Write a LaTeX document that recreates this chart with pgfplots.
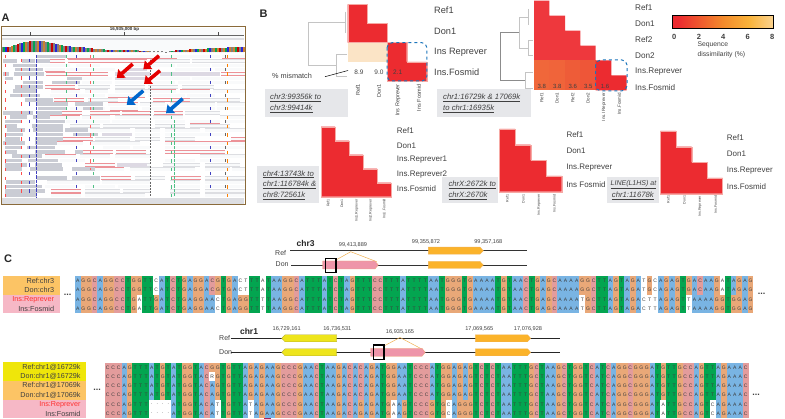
\documentclass[border=0pt]{standalone}
\usepackage{fontspec}
\setmainfont{Liberation Sans}
\usepackage{pgfplots}
\pgfplotsset{compat=1.18}
\usetikzlibrary{arrows.meta}

\definecolor{hred}{HTML}{EC2B30}
\definecolor{hredb}{HTML}{EE383D}
\definecolor{hedge}{HTML}{F6A9A4}
\definecolor{cream}{HTML}{FBE4C6}
\definecolor{boxgray}{HTML}{E6E7EA}
\definecolor{dashc}{HTML}{1B75BB}
\definecolor{txt}{HTML}{404040}
\definecolor{baseA}{HTML}{79B4E3}
\definecolor{baseC}{HTML}{E39C9C}
\definecolor{baseG}{HTML}{E9A878}
\definecolor{baseT}{HTML}{03A550}
\definecolor{basetxt}{HTML}{3C3C3C}
\definecolor{lorange}{HTML}{FCC465}
\definecolor{lpink}{HTML}{F6B8C6}
\definecolor{lyellow}{HTML}{EFE60A}
\definecolor{gorange}{HTML}{FBB32A}
\definecolor{gpink}{HTML}{EE95A9}
\definecolor{gyellow}{HTML}{EEE51C}
\definecolor{thinc}{HTML}{F0B050}
\definecolor{framec}{HTML}{8A6A3A}
\definecolor{readg}{HTML}{CACCD4}
\definecolor{readl}{HTML}{DDDEE2}
\definecolor{readv}{HTML}{DDD9E3}
\definecolor{readr}{HTML}{EC9298}
\definecolor{readw}{HTML}{F9FAFB}
\definecolor{dendro}{HTML}{C4C4C4}
\definecolor{cbA}{HTML}{F38A2C}
\definecolor{cbB}{HTML}{F9B33A}
\definecolor{cbC}{HTML}{FCE8C8}

\def\fs#1{\fontsize{#1}{#1}\selectfont}

% alignment parser: upper case = coloured cell, lower case = white cell
\newcount\cellno
\def\listA{}\def\listC{}\def\listG{}\def\listT{}\def\listW{}
\def\dorow#1#2#3#4{\cellno=0\relax\def\rowx{#1}\def\rowy{#2}\def\rowdx{#3}\scanrow#4\relax}
\def\scanrow#1{\ifx#1\relax\else\docell{#1}\expandafter\scanrow\fi}
\def\docell#1{\pgfmathsetmacro\cx{\rowx+\rowdx*\cellno}\advance\cellno by 1\relax
  \if#1A\xdef\listA{\listA(\cx,\rowy)[A]}\fi
  \if#1C\xdef\listC{\listC(\cx,\rowy)[C]}\fi
  \if#1G\xdef\listG{\listG(\cx,\rowy)[G]}\fi
  \if#1T\xdef\listT{\listT(\cx,\rowy)[T]}\fi
  \if#1a\xdef\listW{\listW(\cx,\rowy)[A]}\fi
  \if#1c\xdef\listW{\listW(\cx,\rowy)[C]}\fi
  \if#1t\xdef\listW{\listW(\cx,\rowy)[T]}\fi
  \if#1r\xdef\listW{\listW(\cx,\rowy)[R]}\fi
  \if#1.\xdef\listW{\listW(\cx,\rowy)[.]}\fi}

\dorow{77.8}{280.7}{5.606}{AGGCAGGCCTGGTTcATCTGAGGACGTGActTTaTAAGGCATTTATCTAGTTTCCTTTATTTTAATGGGTGAAAATGTAACTGAGCAAAAGGCTTAGTAGAtGcAGAGTGACAAGaTAGAG}
\dorow{77.8}{290}{5.606}{AGGCAGGCCTGGTTcATCTGAGGACGTGActTTaTAAGGCATTTATCTAGTTTCCTTTATTTTAATGGGTGAAAATGTAACTGAGCAAAAGGCTTAGTAGAtGcAGAGTGACAAGaTAGAG}
\dorow{77.8}{299.3}{5.606}{AGGCAGGCCTGaTTGATCTGAGGAAcTGAGGTTtTAAGGCATTTATCTAGTTTCCTTTATTTTAATGGGTGAAAATGTAACTGAGCAAAAtGCTTAGTAGActtAGAGTtAAAAGGTGGAG}
\dorow{77.8}{308.7}{5.606}{AGGCAGGCCTGaTTGATCTGAGGAAcTGAGGTTtTAAGGCATTTATCTAGTTTCCTTTATTTTAATGGGTGAAAATGTAACTGAGCAAAAtGCTTAGTAGActtAGAGTtAAAAGGTGGAG}
\dorow{107.75}{367.3}{5.5}{CCCAGTTTATGTATGGTACGGTGTTAGAGAAGCCCGAACTAAGACACAGATGGAATCCCATGGAGAGTCTCTAATTTGCTAAGCTGGTCATCAGGCGGGATGTTGCCAGTTAGAAAC}
\dorow{107.75}{376.7}{5.5}{CCCAGTTTATGTATGGTACrGTGTTAGAGAAGCCCGAACTAAGACACAGATGGAATCCCATGGAGAGTCTCTAATTTGCTAAGCTGGTCATCAGGCGGGATGTTGCCAGTTAGAAAC}
\dorow{107.75}{385.7}{5.5}{CCCAGTTTATGTATGGTACAGTGTTAGAGAAGCCCGAACTAAGACACAGATGGAATCCCATGGAGAGTCTCTAATTTGCTAAGCTGGTCATCAGGCGGGATGTTGCCAGTTAGAAAC}
\dorow{107.75}{395}{5.5}{CCCAGTTTATGTATGGTACAGTGTTAGAGAAGCCCGAACTAAGACACAGATGGAATCCCATGGAGAGTCTCTAATTTGCTAAGCTGGTCATCAGGCGGGATGTTGCCAGTTAGAAAC}
\dorow{107.75}{404.3}{5.5}{CCCAGTTT....ATGGTACAtTGTTAtAGAAGCCCGAACTAAGACAGAGATGaAGTCCCGTGcAGGGTCTCTAATTTGCTAAGCTGGTCATCAGGCGGGATaTTGCCAGTcAGAAAC}
\dorow{107.75}{413.7}{5.5}{CCCAGTTT....ATGGTACAtTGTTAtAGAAGCCCGAACTAAGACAGAGATGaAGTCCCGTGcAGGGTCTCTAATTTGCTAAGCTGGTCATCAGGCGGGATaTTGCCAGTcAGAAAC}

% read segments of panel A: \rs\list{y}{x1/x2,...}
\def\rs#1#2#3{\foreach \a/\b in {#3}{\xdef#1{#1(\a,#2)(\b,#2)(nan,nan)}}}
\def\bars#1#2{\gdef#1{}\foreach \a/\b in {#2}{\xdef#1{#1(\a,52.5)(\a,\b)(nan,nan)}}}
\def\rG{}\def\rL{}\def\rV{}\def\rR{}

\rs\rL{56.7}{177/220}
\rs\rL{61}{150/190,192/245}
\rs\rL{65.4}{76/100,128/175,177/210,212/245}
\rs\rL{69.7}{66/115,175/212,215/245}
\rs\rL{78.4}{155/190,192/245}
\rs\rL{82.7}{82/112,115/148,150/175,178/210,212/245}
\rs\rL{87}{78/110,115/145,148/178,182/214}
\rs\rL{91.3}{85/108,115/150,213/245}
\rs\rL{95.7}{50/105,148/185,187/215}
\rs\rL{100}{88/118,190/240}
\rs\rL{104.3}{140/165,170/215,217/245}
\rs\rL{108.7}{70/105,142/170,172/215,217/245}
\rs\rL{113}{185/220}
\rs\rL{117.3}{82/110,115/150,153/183,220/245}
\rs\rL{121.7}{66/110,112/150,155/185,225/245}
\rs\rL{126}{70/100,103/150,155/185,190/230}
\rs\rL{130.3}{90/130,135/160,165/200,205/245}
\rs\rL{134.7}{135/160,165/225}
\rs\rL{139}{95/130,135/160,165/195}
\rs\rL{143.3}{90/140}
\rs\rL{147.6}{133/150,165/245}
\rs\rL{156.3}{80/110,115/150,200/245}
\rs\rL{160.6}{60/85,200/230}
\rs\rL{165}{130/150,163/200,205/240}
\rs\rL{169.3}{130/160,160/195,205/230,232/245}
\rs\rL{178}{135/165,205/245}
\rs\rL{182.3}{47/100,102/150,170/200,205/245}
\rs\rL{186.6}{85/115,118/150,170/200,205/245}
\rs\rL{191}{85/120,123/150,170/200,205/245}
\rs\rL{195.3}{85/145,170/200,205/245}

\rs\rG{56.7}{36/66}
\rs\rG{61}{3/17,22/35,37/50}
\rs\rG{65.4}{13/36}
\rs\rG{69.7}{15/43}
\rs\rG{74}{3/9,14/44}
\rs\rG{78.4}{5/13,67/97}
\rs\rG{82.7}{23/43,52/80}
\rs\rG{87}{15/43}
\rs\rG{91.3}{13/37}
\rs\rG{95.7}{10/40}
\rs\rG{100}{25/53}
\rs\rG{104.3}{37/68,75/103}
\rs\rG{108.7}{38/67,83/103}
\rs\rG{113}{3/33,37/63}
\rs\rG{117.3}{10/27,33/50}
\rs\rG{121.7}{5/22,37/65}
\rs\rG{126}{5/17,32/63}
\rs\rG{130.3}{7/25,33/63,65/88}
\rs\rG{134.7}{5/23,37/63,73/98}
\rs\rG{139}{5/20,35/63}
\rs\rG{143.3}{3/25,35/63}
\rs\rG{147.6}{5/22,27/55}
\rs\rG{152}{5/17,35/65,75/93}
\rs\rG{156.3}{12/42}
\rs\rG{160.6}{5/22,28/58}
\rs\rG{165}{5/27,35/62}
\rs\rG{169.3}{5/22,30/63,72/95}
\rs\rG{178}{37/67,72/100}
\rs\rG{182.3}{6/35}
\rs\rG{186.6}{5/42}
\rs\rG{191}{5/45}
\rs\rG{195.3}{5/37}

\rs\rV{69.7}{127/147}
\rs\rV{74}{115/150,160/220}
\rs\rV{78.4}{98/112,115/150}
\rs\rV{134.7}{102/132}
\rs\rV{165}{117/147}

\rs\rR{56.7}{67/127,127/177,222/245}
\rs\rR{61}{50/65,68/100,100/147}
\rs\rR{65.4}{40/70}
\rs\rR{69.7}{45/65}
\rs\rR{74}{46/108,221/245}
\rs\rR{78.4}{82/112}
\rs\rR{87}{45/75}
\rs\rR{91.3}{51/80,151/176,180/210}
\rs\rR{95.7}{108/145}
\rs\rR{100}{54/84,153/190}
\rs\rR{104.3}{108/138}
\rs\rR{108.7}{110/138}
\rs\rR{113}{62/82,90/120,122/151,154/183}
\rs\rR{117.3}{50/80}
\rs\rR{121.7}{190/220}
\rs\rR{139}{63/93,231/245}
\rs\rR{143.3}{57/83,165/195,195/225,225/245}
\rs\rR{147.6}{103/130}
\rs\rR{152}{83/113,116/146,165/195,195/225}
\rs\rR{156.3}{45/76}
\rs\rR{160.6}{165/195}
\rs\rR{165}{85/115}
\rs\rR{169.3}{95/124}
\rs\rR{178}{101/131,171/201}
\rs\rR{186.6}{45/75}
\rs\rR{191}{51/81}
\rs\rR{195.3}{51/81}

% coverage track: x/top
\bars\covGray{2/47,10/46.7,16/45,20/43.5,28/41.7,32/41,36/41,42/41,46/42,50/42.7,54/43.5,58/44.5,64/46,68/46.5,72/47,78/47.3,82/47.3,86/48,90/48.5,94/49,98/49.3,102/49.5,106/50,110/50,114/50,118/50,122/50,126/50,130/50,134/50,138/50.5,142/51,146/51,150/51,154/51.5,158/51.5,162/51.5,166/51.7,170/51.5,174/51,178/50.5,186/50,194/49.3,202/49,212/48.5,222/48,232/47.3,240/47}
\bars\covGreen{4/47,14/45.5,24/42.5,34/41,48/42.5,62/45.5,74/47,88/48,104/49.5,120/50,136/50.5,172/51,182/50,198/49,208/48.5,216/48,226/47.7,236/47.3}
\bars\covRed{8/46.8,18/44,30/41.3,52/43,66/46,80/47.3,92/48.5,108/50,124/50,140/51,176/50.5,190/49.5,204/49,220/48,238/47.2}
\bars\covBlue{6/47,22/43,40/41,56/44,70/46.5,84/47.5,112/50,128/50,144/51,180/50,196/49,210/48.5,228/47.5,242/47}
\bars\covTan{12/46,26/42,38/41,44/41.5,60/45,76/47,96/49,100/49.3,116/50,132/50,148/51,184/50,188/49.7,192/49.3,200/49,206/48.7,214/48.3,218/48,224/48,230/47.5,234/47.3,244/47}

\def\plotlist#1#2{\edef\tmpcmd{\noexpand\addplot[\unexpanded{#1}] coordinates {#2};}\tmpcmd}
\def\rect#1#2#3#4#5{\addplot[fill=#1,draw=none] coordinates {(#2,#3)(#4,#3)(#4,#5)(#2,#5)} --cycle;}
\def\lab#1#2#3#4{\node[anchor=west,inner sep=0pt,text=txt,font=\fs{#3}] at (axis cs:#1,#2) {#4};}
\def\vlab#1#2#3#4{\node[anchor=east,rotate=90,inner sep=0pt,text=txt,font=\fs{#3}] at (axis cs:#1,#2) {#4};}
\def\ctr#1#2#3#4{\node[inner sep=0pt,text=txt,font=\fs{#3}] at (axis cs:#1,#2) {#4};}
\def\link#1#2#3{\node[anchor=west,inner sep=0pt,text=txt,font=\fs{7.7}\itshape] at (axis cs:#1,#2) {\underline{#3}};}

\pgfdeclareplotmark{cell}{\pgfpathrectangle{\pgfqpoint{-2.85pt}{-4.72pt}}{\pgfqpoint{5.7pt}{9.44pt}}\pgfusepathqfill}
\pgfdeclarehorizontalshading{cbar}{100bp}{
  color(0bp)=(hred); color(28bp)=(hred); color(50bp)=(cbA);
  color(63bp)=(cbB); color(83bp)=(cbC); color(95bp)=(white); color(100bp)=(white)}
\pgfplotsset{
  basecell/.style={only marks, mark=cell, color=#1, point meta=explicit symbolic,
    nodes near coords={\pgfplotspointmeta},
    every node near coord/.append style={anchor=center, inner sep=0pt, text=basetxt, font={\fs{5}}}},
  rd/.style={unbounded coords=jump, line width=#1}}

\begin{document}
\begin{tikzpicture}
\useasboundingbox (0,0) rectangle (785pt,419pt);
\begin{axis}[
  scale only axis, width=785pt, height=419pt,
  xmin=0, xmax=785, ymin=0, ymax=419, y dir=reverse,
  hide axis, clip=false]

% ---- panel A
\rect{readw}{2}{28}{244}{204}
\rect{white}{2}{53}{244}{198}
\rect{readl}{2}{37.8}{244}{40}
\rect{readl}{2}{198.5}{244}{204}
\addplot[black!60,line width=0.4] coordinates {(2,35.7)(244,35.7)};
\addplot[black!70,unbounded coords=jump,line width=0.4] coordinates {(30,32.5)(30,35.7)(nan,nan)(124,32.5)(124,35.7)(nan,nan)(218,32.5)(218,35.7)};
\node[font=\fs{4.5}\bfseries,text=black!80,inner sep=0pt] at (axis cs:124.5,29.7) {16,935,000 bp};
\plotlist{rd=1.9,color=gray}{\covGray}
\plotlist{rd=1.9,color=baseT}{\covGreen}
\plotlist{rd=1.9,color=red!80!black}{\covRed}
\plotlist{rd=1.9,color=blue!70!gray}{\covBlue}
\plotlist{rd=1.9,color=brown!80!orange}{\covTan}
\plotlist{rd=3.6,color=readl}{\rL}
\plotlist{rd=2.6,color=readw}{\rL}
\plotlist{rd=3.6,color=readg}{\rG}
\plotlist{rd=3.6,color=readv}{\rV}
\plotlist{rd=3.7,color=readr}{\rR}
\plotlist{rd=2.5,color=readw}{\rR}
% mismatch columns
\addplot[red!70,line width=0.55,dash pattern=on 3.3pt off 5.4pt] coordinates {(5,55)(5,197)};
\addplot[red!70,line width=0.55,dash pattern=on 3.3pt off 5.4pt] coordinates {(21,59)(21,197)};
\addplot[blue!50!gray,line width=0.55,dash pattern=on 3.3pt off 5.4pt] coordinates {(29,59)(29,197)};
\addplot[blue!50!gray,line width=0.5,dash pattern=on 3.3pt off 1pt] coordinates {(36,55)(36,197)};
\addplot[baseT!70,line width=0.55,dash pattern=on 3.3pt off 5.4pt] coordinates {(66,55)(66,120)};
\addplot[blue!50!gray,line width=0.55,dash pattern=on 3.3pt off 9.7pt] coordinates {(76,55)(76,197)};
\addplot[red!60,line width=0.55,dash pattern=on 3.3pt off 5.4pt] coordinates {(90,55)(90,170)};
\addplot[baseT!70,line width=0.55,dash pattern=on 3.3pt off 9.7pt] coordinates {(93.3,55)(93.3,197)};
\addplot[baseT!70,line width=0.55,dash pattern=on 3.3pt off 5.4pt] coordinates {(171,55)(171,197)};
\addplot[baseT!70,line width=0.55,dash pattern=on 3.3pt off 1pt] coordinates {(174,120)(174,197)};
\addplot[blue!50!gray,line width=0.55,dash pattern=on 3.3pt off 9.7pt] coordinates {(210.7,55)(210.7,197)};
\addplot[black!60,line width=0.55,dash pattern=on 3.3pt off 9.7pt] coordinates {(225,55)(225,197)};
\addplot[orange,line width=0.55,dash pattern=on 3.3pt off 5.4pt] coordinates {(227.7,55)(227.7,197)};
\addplot[black!60,line width=0.6,dash pattern=on 2pt off 1.2pt] coordinates {(150.5,60)(150.5,198)};
\rect{readl}{2}{198.5}{244}{204}
\addplot[framec,line width=1] coordinates {(1,26.5)(245,26.5)(245,205)(1,205)} --cycle;
% arrows
\addplot[red!90!black,line width=3.6,-{Triangle[length=7pt,width=11pt]}] coordinates {(132.7,64)(116.7,78)};
\addplot[red!90!black,line width=3.6,-{Triangle[length=7pt,width=11pt]}] coordinates {(159,55.7)(143.3,69.3)};
\addplot[red!90!black,line width=3.6,-{Triangle[length=7pt,width=11pt]}] coordinates {(160,70.7)(144,84)};
\addplot[blue!50!cyan!80!black,line width=3.6,-{Triangle[length=7pt,width=11pt]}] coordinates {(143.3,90.7)(126.7,105)};
\addplot[blue!50!cyan!80!black,line width=3.6,-{Triangle[length=7pt,width=11pt]}] coordinates {(182.7,98.7)(166,113.3)};
\node[font=\fs{11}\bfseries,text=black!85,inner sep=0pt] at (axis cs:5.5,17.5) {A};
\node[font=\fs{11}\bfseries,text=black!85,inner sep=0pt] at (axis cs:263.5,14) {B};
\node[font=\fs{11}\bfseries,text=black!85,inner sep=0pt] at (axis cs:8,259) {C};

% ---- panel B heatmap 1
\addplot[dendro,line width=0.6] coordinates {(345,11.7)(345,33.3)};
\addplot[dendro,line width=0.6] coordinates {(345,22.3)(308.3,22.3)(308.3,65.7)(336.7,65.7)};
\addplot[dendro,line width=0.6] coordinates {(347,54.3)(336.7,54.3)(336.7,76)(347,76)};
\rect{cream}{347.7}{42.7}{387}{62}
\addplot[fill=hred,draw=hedge,line width=0.4] coordinates {(347.7,4.3)(367.3,4.3)(367.3,23.7)(387,23.7)(387,42.7)(347.7,42.7)} --cycle;
\addplot[fill=hred,draw=hedge,line width=0.4] coordinates {(387,42.7)(406.7,42.7)(406.7,62)(426.7,62)(426.7,81)(387,81)} --cycle;
\draw[dashc,dashed,line width=1,rounded corners=5pt] (axis cs:387,42.7) rectangle (axis cs:426.9,81);
\ctr{359}{72.5}{6.5}{8.9}\ctr{379}{72.5}{6.5}{9.0}\ctr{397.7}{72.5}{6.5}{2.1}
\lab{434}{10.7}{9.2}{Ref1}\lab{434}{31.3}{9.2}{Don1}\lab{434}{52}{9.2}{Ins Reprever}\lab{434}{72.5}{9.2}{Ins.Fosmid}
\vlab{358}{84}{5.5}{Ref1}\vlab{379}{84}{5.5}{Don1}\vlab{398}{84}{5.5}{Ins Reprever}\vlab{419}{84}{5.5}{Ins Fosmid}
\lab{272}{76}{7.3}{\% mismatch}
\addplot[black,line width=0.5] coordinates {(325,76.7)(348,70.5)};
\rect{boxgray}{264.7}{89.3}{347.7}{116.7}
\link{270}{98}{chr3:99356k to}\link{270}{109}{chr3:99414k}

% ---- heatmap 2
\addplot[dendro,line width=0.6] coordinates {(528,9)(528,25)};
\addplot[dendro,line width=0.6] coordinates {(528,17)(519,17)(519,48)(528,48)};
\addplot[dendro,line width=0.6] coordinates {(533,40)(528,40)(528,55)(533,55)};
\addplot[black!45,line width=0.7] coordinates {(519,32.7)(500,32.7)(500,80)(525,80)};
\addplot[dendro,line width=0.6] coordinates {(533,72)(525,72)(525,88)(533,88)};
\addplot[fill=hredb,draw=none] coordinates {(534,0.7)(549.3,0.7)(549.3,15.7)(565,15.7)(565,30.7)(580.3,30.7)(580.3,45.7)(595.7,45.7)(595.7,60.3)(534,60.3)} --cycle;
\definecolor{hor1}{HTML}{F0673A}\definecolor{hor2}{HTML}{F0643A}\definecolor{hor3}{HTML}{EE5C38}\definecolor{hor4}{HTML}{EE5638}
\rect{hor1}{534}{60.3}{549.3}{90.3}
\rect{hor2}{549.3}{60.3}{565}{90.3}
\rect{hor3}{565}{60.3}{580.3}{90.3}
\rect{hor4}{580.3}{60.3}{595.7}{90.3}
\addplot[fill=hred,draw=none] coordinates {(595.7,60.3)(611.3,60.3)(611.3,75.3)(626.7,75.3)(626.7,90.3)(595.7,90.3)} --cycle;
\draw[dashc,dashed,line width=1,rounded corners=5pt] (axis cs:595.7,60) rectangle (axis cs:627,90.8);
\ctr{541.7}{86}{6}{3.8}\ctr{557.3}{86}{6}{3.8}\ctr{572.7}{86}{6}{3.6}\ctr{588.3}{86}{6}{3.5}\ctr{605}{86}{6}{1.6}
\lab{635}{8}{8.2}{Ref1}\lab{635}{24}{8.2}{Don1}\lab{635}{40}{8.2}{Ref2}\lab{635}{56}{8.2}{Don2}\lab{635}{72}{8.2}{Ins.Reprever}\lab{635}{88}{8.2}{Ins.Fosmid}
\vlab{541.7}{92.7}{4.5}{Ref1}\vlab{557}{92.7}{4.5}{Don1}\vlab{572.7}{92.7}{4.5}{Ref2}\vlab{588}{92.7}{4.5}{Don2}\vlab{604}{92.7}{4.5}{Ins.I Reprever}\vlab{619.3}{92.7}{4.5}{Ins.Fosmid}
\rect{boxgray}{437.3}{89.3}{530.7}{116.7}
\link{443}{98}{chr1:16729k \& 17069k}\link{443}{109}{to chr1:16935k}

% ---- colour bar
\shade[shading=cbar] (axis cs:672,15.7) rectangle (axis cs:773.3,28.3);
\draw[black,line width=1] (axis cs:672,15.7) rectangle (axis cs:773.3,28.3);
\ctr{674.3}{37}{7.5}{\bfseries 0}\ctr{699}{37}{7.5}{\bfseries 2}\ctr{723.3}{37}{7.5}{\bfseries 4}\ctr{747.7}{37}{7.5}{\bfseries 6}\ctr{772.3}{37}{7.5}{\bfseries 8}
\lab{697.3}{45}{6.8}{Sequence}\lab{697.3}{55}{6.8}{dissimilarity (\%)}

% ---- heatmap 3
\addplot[fill=hred,draw=hedge,line width=0.3] coordinates {(321,126.7)(335,126.7)(335,140.7)(349,140.7)(349,154.7)(363,154.7)(363,168.7)(377,168.7)(377,182.7)(391,182.7)(391,196.7)(321,196.7)} --cycle;
\lab{396.7}{131}{8}{Ref1}\lab{396.7}{145.7}{8}{Don1}\lab{396.7}{160}{8}{Ins.Reprever1}\lab{396.7}{174.3}{8}{Ins.Reprever2}\lab{396.7}{189}{8}{Ins.Fosmid}
\vlab{328}{199}{3.6}{Ref1}\vlab{342}{199}{3.6}{Don1}\vlab{356.7}{199}{3.6}{Ins1.Reprever}\vlab{370.7}{199}{3.6}{Ins2.Reprever}\vlab{384}{199}{3.6}{Ins1.Fosmid}
\rect{boxgray}{257.3}{166}{319.3}{203.3}
\link{262.7}{174.3}{chr4:13743k to}\link{262.7}{185}{chr1:116784k \&}\link{262.7}{195.7}{chr8:72561k}

% ---- heatmap 4
\addplot[fill=hred,draw=hedge,line width=0.3] coordinates {(499.3,129)(515,129)(515,144.7)(530.7,144.7)(530.7,160.3)(546.3,160.3)(546.3,176)(561.7,176)(561.7,191.7)(499.3,191.7)} --cycle;
\lab{566.3}{135}{8}{Ref1}\lab{566.3}{151}{8}{Don1}\lab{566.3}{167.7}{8}{Ins.Reprever}\lab{566.3}{184.3}{8}{Ins Fosmid}
\vlab{507.3}{194.3}{3.6}{Ref1}\vlab{523.3}{194.3}{3.6}{Don1}\vlab{539}{194.3}{3.6}{Ins.Reprever}\vlab{554.3}{194.3}{3.6}{Ins.Fosmid}
\rect{boxgray}{442.3}{176.7}{498}{203.3}
\link{448.3}{185}{chrX:2672k to}\link{448.3}{196}{chrX:2670k}

% ---- heatmap 5
\addplot[fill=hred,draw=hedge,line width=0.3] coordinates {(660.3,131)(676,131)(676,146.7)(691.7,146.7)(691.7,162.3)(707.3,162.3)(707.3,178)(722.5,178)(722.5,193.7)(660.3,193.7)} --cycle;
\lab{726.7}{137.3}{8}{Ref1}\lab{726.7}{154}{8}{Don1}\lab{726.7}{170.7}{8}{Ins.Reprever}\lab{726.7}{186.7}{8}{Ins.Fosmid}
\vlab{668.3}{195.7}{3.6}{Ref1}\vlab{684.3}{195.7}{3.6}{Don1}\vlab{700}{195.7}{3.6}{Ins.Reprever}\vlab{715.7}{195.7}{3.6}{Ins.Fosmid}
\rect{boxgray}{606.7}{176.7}{659.3}{203.3}
\node[anchor=west,inner sep=0pt,text=txt,font=\fs{7}\itshape] at (axis cs:610.5,185) {\underline{LINE(L1HS) at}};
\link{611.7}{196}{chr1:11678k}

% ---- panel C, chr3 gene track
\node[font=\fs{8.5}\bfseries,text=black!85,inner sep=0pt] at (axis cs:305.7,243.3) {chr3};
\lab{275}{252.7}{7}{Ref}\lab{275.5}{264.3}{7}{Don}
\addplot[black!80,line width=0.7] coordinates {(290,250.7)(526.7,250.7)};
\addplot[black!80,line width=0.7] coordinates {(291,265)(526.7,265)};
\addplot[fill=gorange,draw=thinc,line width=0.4] coordinates {(428.3,247.2)(480,247.2)(483.3,250.7)(480,254.2)(428.3,254.2)} --cycle;
\addplot[fill=gorange,draw=thinc,line width=0.4] coordinates {(428.3,261.5)(480,261.5)(483.3,265)(480,268.5)(428.3,268.5)} --cycle;
\addplot[thinc,line width=0.5] coordinates {(336,260)(350.7,251.7)(376.7,261.7)};
\addplot[fill=gpink,draw=thinc!60!gpink,line width=0.3] coordinates {(322.7,261)(375,261)(378.3,265)(375,269)(322.7,269)} --cycle;
\draw[black,line width=1.1] (axis cs:325.7,258.3) rectangle (axis cs:336,272.7);
\ctr{353}{245}{5.6}{99,413,889}\ctr{426}{242.3}{5.6}{99,355,872}\ctr{488.3}{242.3}{5.6}{99,357,168}

% ---- alignment 1
\rect{lorange}{3.3}{276}{60}{294.6}
\rect{lpink}{3.3}{294.6}{60}{312.9}
\node[anchor=east,inner sep=0pt,font=\fs{7.3},text=black!75] at (axis cs:54.3,280.7) {Ref:chr3};
\node[anchor=east,inner sep=0pt,font=\fs{7.3},text=black!75] at (axis cs:54.3,290) {Don:chr3};
\node[anchor=east,inner sep=0pt,font=\fs{7.3},text=red!75!pink] at (axis cs:54.3,299.3) {Ins:Reprever};
\node[anchor=east,inner sep=0pt,font=\fs{7.3},text=black!75] at (axis cs:54.3,308.7) {Ins:Fosmid};
\ctr{67.7}{294.5}{9}{\textbf{...}}
\ctr{761.7}{293.5}{9}{\textbf{...}}

% ---- panel C, chr1 gene track
\node[font=\fs{8.5}\bfseries,text=black!85,inner sep=0pt] at (axis cs:249,331) {chr1};
\lab{219}{338.3}{7}{Ref}\lab{219}{351.7}{7}{Don}
\addplot[black!85,line width=0.7] coordinates {(230.7,338.3)(560,338.3)};
\addplot[black!85,line width=0.7] coordinates {(230.7,352.3)(560,352.3)};
\addplot[fill=gyellow,draw=olive!70,line width=0.3] coordinates {(336.7,334.8)(285,334.8)(281.7,338.3)(285,341.8)(336.7,341.8)} --cycle;
\addplot[fill=gyellow,draw=olive!70,line width=0.3] coordinates {(336.7,348.8)(285,348.8)(281.7,352.3)(285,355.8)(336.7,355.8)} --cycle;
\addplot[fill=gorange,draw=thinc,line width=0.3] coordinates {(475.3,334.8)(527.5,334.8)(530.7,338.3)(527.5,341.8)(475.3,341.8)} --cycle;
\addplot[fill=gorange,draw=thinc,line width=0.3] coordinates {(475.3,348.8)(527.5,348.8)(530.7,352.3)(527.5,355.8)(475.3,355.8)} --cycle;
\addplot[thinc,line width=0.5] coordinates {(384,346)(400,337.5)(421.7,349)};
\addplot[fill=gpink,draw=thinc!60!gpink,line width=0.3] coordinates {(370.7,348.3)(422,348.3)(425.3,352.3)(422,356.3)(370.7,356.3)} --cycle;
\draw[black,line width=1.1] (axis cs:373.3,345) rectangle (axis cs:384,359.3);
\ctr{286.7}{329}{5.6}{16,729,161}\ctr{337.3}{329}{5.6}{16,736,531}\ctr{400}{332.3}{5.6}{16,935,165}\ctr{479.3}{329.3}{5.6}{17,069,565}\ctr{528}{329.3}{5.6}{17,076,928}

% ---- alignment 2
\rect{lyellow}{3.3}{362.3}{86}{381.1}
\rect{lorange}{3.3}{381.1}{86}{399.6}
\rect{lpink}{3.3}{399.6}{86}{418.4}
\node[anchor=east,inner sep=0pt,font=\fs{7.2},text=black!75] at (axis cs:80.7,367.3) {Ref:chr1@16729k};
\node[anchor=east,inner sep=0pt,font=\fs{7.2},text=black!75] at (axis cs:80.7,376.7) {Don:chr1@16729k};
\node[anchor=east,inner sep=0pt,font=\fs{7.2},text=black!75] at (axis cs:80.7,385.7) {Ref:chr1@17069k};
\node[anchor=east,inner sep=0pt,font=\fs{7.2},text=black!75] at (axis cs:80.7,395) {Don:chr1@17069k};
\node[anchor=east,inner sep=0pt,font=\fs{7.2},text=red!75!pink] at (axis cs:80.7,404.3) {Ins:Reprever};
\node[anchor=east,inner sep=0pt,font=\fs{7.2},text=black!75] at (axis cs:80.7,413.7) {Ins:Fosmid};
\ctr{97}{390}{9}{\textbf{...}}
\ctr{756}{394.7}{9}{\textbf{...}}

% ---- alignment cells
\plotlist{basecell=baseA}{\listA}
\plotlist{basecell=baseC}{\listC}
\plotlist{basecell=baseG}{\listG}
\plotlist{basecell=baseT}{\listT}
\plotlist{basecell=white}{\listW}
\draw[red!70!blue!70!gray,line width=0.5] (axis cs:264.5,409.2) rectangle (axis cs:270,418.2);
\end{axis}
\end{tikzpicture}
\end{document}
